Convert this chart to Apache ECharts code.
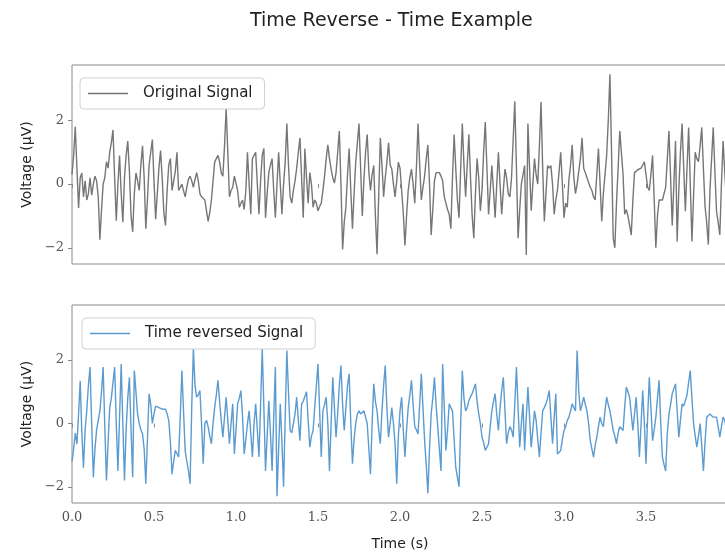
<!DOCTYPE html>
<html>
<head>
<meta charset="utf-8">
<script src="https://cdn.jsdelivr.net/npm/echarts@6/dist/echarts.min.js"></script>
<style>
html,body{margin:0;padding:0;background:#fff;}
#chart{width:725px;height:556px;}
</style>
</head>
<body>
<div id="chart"></div>
<script>
// ---- data ----
const SAMPLE_RATE = 100; // samples per second
const titleText = 'Time Reverse - Time Example';
const seriesNames = ['Original Signal', 'Time reversed Signal'];
const xTicks = [0, 0.5, 1.0, 1.5, 2.0, 2.5, 3.0, 3.5];
const yTicks = [-2, 0, 2];

const originalSignal = [
  0.3, 0.9, 1.8, 0.5, -0.75, 0.2, 0.35, -0.4, 0.1, -0.5, -0.3, 0.2, -0.35, 0.0, 0.25, 0.1, -0.4, -1.75, -0.8, 0.0,
  0.2, 0.7, 0.5, 1.0, 1.3, 1.7, 0.2, -1.15, 0.0, 0.9, -0.3, -1.2, 0.2, 0.9, 1.35, 0.4, -1.0, -1.5, -0.3, 0.35,
  0.1, -0.2, 0.6, 1.2, 0.2, -1.4, -0.5, 0.6, 1.0, 1.4, 0.1, -1.1, -0.3, 0.5, 1.05, 0.2, -0.9, -1.3, -0.2, 0.6,
  0.8, -0.2, -0.2, 0.4, 1.0, -0.2, -0.1, 0.0, 0.05, -0.4, -0.1, 0.15, 0.25, 0.1, -0.1, 0.15, 0.36, 0.1, -0.3, -0.4,
  -0.4, -0.5, -0.84, -1.17, -0.9, -0.5, 0.1, 0.69, 0.8, 0.9, 0.7, 0.35, 0.25, 1.2, 2.38, 1.0, -0.4, -0.2, -0.1, 0.25,
  0.25, -0.2, -0.73, -0.6, -0.5, -0.8, -0.2, 1.0, 0.0, -0.95, 0.8, 0.9, 1.0, 0.0, -0.95, 0.1, 0.9, 1.12, -1.06, -0.3,
  0.36, 0.6, 0.8, -0.2, -1.06, 0.0, 1.0, 0.0, -0.95, 0.0, 0.69, 1.9, 0.6, -0.4, -0.6, -0.2, 0.1, 0.5, 1.0, 1.45,
  0.2, -1.06, 1.12, 0.2, -0.6, 0.36, 0.0, -0.73, -0.5, -0.6, -0.84, -0.7, -0.6, -0.2, 0.25, 0.8, 1.23, 0.8, 0.47, 0.2,
  0.03, 0.36, 1.0, 1.67, 0.0, -2.05, -1.2, -0.73, 0.3, 1.12, -0.2, -1.4, -0.3, 0.69, 1.3, 1.9, 0.5, -1.0, 0.14, 1.0,
  1.56, 0.4, -0.2, 0.3, 0.58, -1.0, -2.2, -0.4, 1.45, 0.6, -0.4, 0.2, 0.69, 1.3, 0.6, 0.47, 0.0, -0.4, 0.1, 0.69,
  0.5, -0.2, -0.9, -1.93, -1.0, -0.2, 0.2, 0.47, 0.0, -0.6, 0.5, 1.9, 0.6, -0.5, -0.1, 0.25, 0.8, 1.23, 0.0, -1.6,
  -0.8, 0.1, 0.36, 0.3, 0.36, 0.25, 0.1, -0.4, -0.6, -0.8, -0.95, -1.4, 0.2, 1.56, 0.5, -0.5, -1.06, 0.5, 1.9, 0.6,
  -0.4, 0.6, 1.56, 0.2, -1.0, -1.7, -0.3, 0.8, 0.2, -0.84, -0.2, 1.0, 1.95, 0.5, -0.95, -0.2, 0.58, -0.2, -1.06, 0.0,
  1.0, 0.0, -0.95, -0.2, 0.47, 0.2, -0.3, -0.4, 0.2, 1.4, 2.6, 0.5, -1.7, -0.8, 0.0, 0.3, 0.58, -2.23, 1.9, 0.5,
  -0.84, 0.0, 0.8, 0.3, 0.0, 1.2, 2.58, 0.5, -1.17, -0.3, 0.58, 0.5, 0.58, 0.0, -0.95, -0.5, -0.2, 0.4, 1.0, 0.0,
  -1.06, -0.6, -0.73, 0.14, 0.6, 1.23, 0.2, -0.3, 0.0, 0.0, 0.8, 1.45, 0.5, 0.36, 0.2, 0.25, -0.1, -0.2, -0.4, -0.5,
  0.3, 1.12, 0.0, -1.17, -0.3, 0.3, 0.9, 2.0, 3.45, 1.0, -1.7, -2.0, -0.6, 0.5, 1.67, 1.73, 0.3, -0.95, -0.8, -1.0,
  -1.3, -1.6, -0.5, 0.36, 0.4, 0.45, 0.5, 0.5, 0.6, 0.7, 0.3, -0.1, -0.2, 0.3, 0.9, -0.5, -2.0, -1.0, -0.5, -0.5,
  -0.5, -0.3, -0.1, 0.8, 1.67, 0.2, -1.3, 0.0, 1.35, -1.8, -0.2, 1.0, 1.9, 0.5, -0.85, 0.5, 1.78, 0.0, -1.8, -0.4,
  1.0, 0.8, 0.7, 1.2, 1.78, 0.5, -0.7, -1.2, -1.9, -0.2, 0.8, 1.78, 0.4, -0.85, -1.2, -1.6, 0.0, 1.35, 0.4, -0.5
];

const reversedSignal = [
  -1.2, -0.8, -0.3, -0.65, 0.3, 1.35, -0.3, -1.4, -0.2, 0.4, 1.2, 1.78, 0.0, -1.7, -0.8, -0.2, 0.1, 0.4, 1.0, 1.78,
  -0.1, -1.8, -0.6, 0.5, 0.8, 1.3, 1.78, 0.0, -1.5, 0.2, 1.88, 0.0, -1.8, -0.2, 0.8, 1.46, -0.2, -1.7, 1.67, 1.0,
  0.3, 0.0, -0.2, -0.33, -0.8, -1.9, -0.5, 0.94, 0.6, 0.0, 0.3, 0.55, 0.6, 0.5, 0.5, 0.45, 0.5, 0.45, 0.3, 0.1,
  -0.6, -1.6, -1.2, -0.85, -0.9, -1.06, 0.2, 1.67, 0.4, -0.85, -1.2, -1.5, -1.9, 0.5, 2.36, 1.2, 0.83, 0.9, 1.04, 0.0,
  -1.27, 0.0, 0.1, -0.1, -0.4, -0.64, 0.0, 0.5, 0.9, 1.36, 0.7, 0.1, -0.43, 0.2, 0.83, 0.1, -0.64, 0.0, 0.62, -0.96,
  -0.2, 0.62, 0.8, 1.04, 0.2, -0.96, -0.5, 0.0, 0.4, -0.3, -1.06, 0.0, 0.62, -0.2, -1.06, 0.6, 2.36, 0.5, -1.5, -0.4,
  0.72, -0.3, -1.5, 0.2, 1.78, -2.3, -0.8, 0.62, -0.6, -2.0, 0.2, 2.3, 1.0, -0.22, -0.3, -0.33, 0.3, 0.83, 0.1, -0.54,
  0.62, 0.7, 0.85, 1.0, 0.1, -0.75, -0.4, -0.22, 0.5, 1.2, 1.88, 0.4, -1.06, 0.4, 0.6, 0.83, 0.0, -1.5, 0.0, 1.46,
  0.5, -0.43, 0.3, 1.2, 1.83, 0.6, -0.22, 0.5, 1.2, 1.57, 0.0, -1.27, -0.5, 0.0, 0.3, 0.4, 0.3, 0.35, 0.4, 0.2,
  0.0, -0.8, -1.6, 0.0, 1.25, 0.7, 0.4, -0.2, -0.64, 0.4, 1.2, 1.83, 0.5, -0.43, 0.0, 0.5, 0.0, -0.64, -1.9, -0.4,
  0.4, 0.83, -0.2, -1.06, -0.2, 0.5, 0.9, 1.36, 0.6, -0.1, -0.2, -0.33, 0.6, 1.57, 0.5, -0.54, -1.3, -2.2, -0.8, 0.3,
  0.8, 1.46, 0.6, -0.1, -0.8, -1.5, 1.88, 0.5, -0.85, -0.2, 0.62, 0.5, 0.4, -0.5, -1.38, -1.7, -2.0, 0.0, 1.67, 0.8,
  0.4, 0.5, 0.72, 0.85, 0.94, 1.1, 1.25, 0.7, 0.3, 0.0, -0.43, -0.6, -0.85, -0.75, -0.64, -0.1, 0.4, 0.7, 0.94, 0.3,
  -0.22, 0.5, 1.04, 1.46, 0.4, -0.64, -0.3, -0.1, -0.2, -0.43, 0.6, 1.78, 0.5, -0.75, 0.0, 0.62, -0.85, 0.2, 1.15, 0.2,
  -0.75, -0.2, 0.4, 0.1, -0.5, -1.06, -0.3, 0.4, 0.5, 0.62, 0.8, 1.04, 0.2, -0.64, 0.2, 0.94, -0.96, -0.9, -0.85, -0.5,
  -0.22, -0.1, 0.1, 0.2, 0.4, 0.62, 0.5, 0.4, 2.3, 1.0, 0.4, 0.6, 0.83, 0.6, 0.4, 0.0, -0.54, -0.8, -1.06, -0.7,
  -0.43, -0.1, 0.2, 0.0, -0.1, 0.4, 0.83, 0.6, 0.4, 0.1, -0.22, -0.4, -0.64, -0.3, -0.1, -0.15, -0.22, 0.5, 1.15, 1.0,
  0.83, 0.3, -0.22, 0.3, 0.83, 0.0, -1.06, 0.0, 1.04, 0.0, -1.27, 0.2, 1.46, 0.5, -0.54, -0.2, 0.2, 0.8, 1.36, 0.0,
  -1.06, -1.3, -1.5, -0.3, 0.3, 0.6, 0.94, 1.1, 1.25, 0.4, -0.43, 0.1, 0.62, 0.55, 0.5, 0.9, 1.3, 1.67, 0.8, 0.0,
  -0.4, -0.75, -0.4, 0.0, -0.7, -1.5, -0.6, 0.2, 0.25, 0.3, 0.25, 0.2, 0.2, 0.2, -0.1, -0.43, -0.1, 0.2, 0.1, -0.2
];

// ---- chart ----
const toPairs = arr => arr.map((v, i) => [i / SAMPLE_RATE, v]);
const fmtY = v => (v < 0 ? '\u2212' + Math.abs(v) : String(v));
const fmtX = v => (v >= 3.99 ? '' : v.toFixed(1));

const SANS = '"DejaVu Sans", "Noto Sans", sans-serif';
const SERIF = '"DejaVu Serif", "Liberation Serif", serif';
const FRAME = '#8a8a8a';

function xAxisFor(idx, showLabels) {
  return {
    type: 'value', gridIndex: idx, min: 0, max: 4, interval: 0.5,
    axisLine: { show: false },
    axisTick: { show: true, length: 4, lineStyle: { color: FRAME } },
    axisLabel: { show: showLabels, formatter: fmtX, fontFamily: SERIF, fontSize: 13, color: '#555', margin: 8 },
    splitLine: { show: false },
    name: showLabels ? 'Time (s)' : '',
    nameLocation: 'middle', nameGap: 34,
    nameTextStyle: { fontFamily: SANS, fontSize: 14, color: '#222' }
  };
}
function yAxisFor(idx) {
  return {
    type: 'value', gridIndex: idx, min: -2.51, max: 3.74,
    axisLine: { show: false },
    axisTick: { show: true, length: 4, customValues: yTicks, lineStyle: { color: FRAME } },
    axisLabel: { customValues: yTicks, formatter: fmtY, fontFamily: SERIF, fontSize: 13, color: '#555', margin: 8 },
    splitLine: { show: false },
    name: 'Voltage (\u03bcV)', nameLocation: 'middle', nameGap: 38, nameRotate: 90,
    nameTextStyle: { fontFamily: SANS, fontSize: 14, color: '#222' }
  };
}
function legendFor(name, color, left, top) {
  return {
    data: [{ name: name, icon: 'rect', itemStyle: { color: color } }],
    left: left, top: top, orient: 'horizontal',
    itemWidth: 40, itemHeight: 1.5,
    padding: [8, 12, 8, 8],
    borderColor: '#d0d0d0', borderWidth: 1, borderRadius: 4,
    backgroundColor: 'rgba(255,255,255,0.85)',
    selectedMode: false,
    textStyle: { fontFamily: SANS, fontSize: 15, color: '#222', padding: [0, 0, 0, 10] }
  };
}

const gridCommon = { show: true, borderColor: FRAME, borderWidth: 1, backgroundColor: 'transparent', containLabel: false, outerBoundsMode: 'none' };

const chart = echarts.init(document.getElementById('chart'), null, { renderer: 'canvas' });
chart.setOption({
  animation: false,
  backgroundColor: '#ffffff',
  graphic: [{
    type: 'text', left: 250, top: 12,
    style: { text: titleText, font: '19px ' + SANS, fill: '#222' }
  }],
  grid: [
    Object.assign({ left: 72, top: 65, width: 656, height: 199 }, gridCommon),
    Object.assign({ left: 72, top: 305, width: 656, height: 198 }, gridCommon)
  ],
  xAxis: [xAxisFor(0, false), xAxisFor(1, true)],
  yAxis: [yAxisFor(0), yAxisFor(1)],
  legend: [legendFor(seriesNames[0], '#767676', 80, 78), legendFor(seriesNames[1], '#5b9bd0', 82, 318)],
  series: [
    {
      name: seriesNames[0], type: 'line', xAxisIndex: 0, yAxisIndex: 0,
      data: toPairs(originalSignal), symbol: 'none', showSymbol: false,
      lineStyle: { color: '#767676', width: 1.4 }, itemStyle: { color: '#767676' }
    },
    {
      name: seriesNames[1], type: 'line', xAxisIndex: 1, yAxisIndex: 1,
      data: toPairs(reversedSignal), symbol: 'none', showSymbol: false,
      lineStyle: { color: '#5b9bd0', width: 1.4 }, itemStyle: { color: '#5b9bd0' }
    }
  ]
});
</script>
</body>
</html>
